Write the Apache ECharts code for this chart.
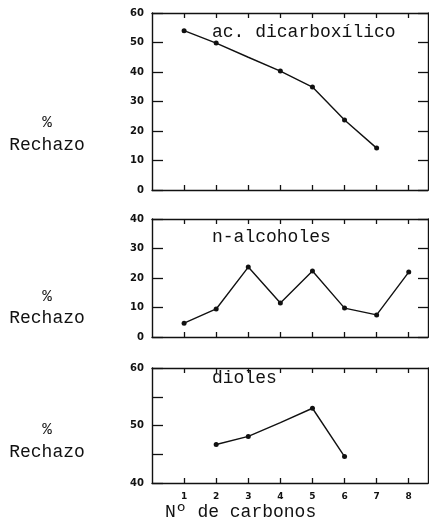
<!DOCTYPE html>
<html>
<head>
<meta charset="utf-8">
<script src="https://cdn.jsdelivr.net/npm/echarts@6/dist/echarts.min.js"></script>
<style>html,body{margin:0;padding:0;background:#fff}#c{width:429px;height:519px}</style>
</head>
<body>
<div id="c"></div>
<script>
// Data (x = Nº de carbonos, y = % Rechazo)
const carbonTicks = [1, 2, 3, 4, 5, 6, 7, 8];
const dicarbX = [1, 2, 3, 4, 5, 6, 7];
const dicarbY = [54, 49.8, 45, 40.3, 34.9, 23.7, 14.2];
const dicarbMarked = [true, true, false, true, true, true, true];
const alcX = [1, 2, 3, 4, 5, 6, 7, 8];
const alcY = [4.7, 9.5, 23.7, 11.5, 22.4, 9.8, 7.5, 22.0];
const diolX = [2, 3, 4, 5, 6];
const diolY = [46.7, 48.1, 50.5, 53, 44.6];
const diolMarked = [true, true, false, true, true];
const panelTitles = ['ac. dicarboxílico', 'n-alcoholes', 'dioles'];
const yTitlePct = '%';
const yTitleWord = 'Rechazo';
const xTitle = 'Nº de carbonos';

const chart = echarts.init(document.getElementById('c'), null, {renderer: 'canvas'});
const mono = 'Liberation Mono';
const sans = 'DejaVu Sans';
const grids = [
  {left: 152, top: 13, width: 276, height: 177},
  {left: 152, top: 219, width: 276, height: 118},
  {left: 152, top: 368, width: 276, height: 115}
];
const yRanges = [{min: 0, max: 60, interval: 10}, {min: 0, max: 40, interval: 10}, {min: 40, max: 60, interval: 5}];
const lineStyle = {color: '#111', width: 1.4};
const axisLine = {show: true, onZero: false, lineStyle: {color: '#111', width: 1.4}};

const xAxes = [], yAxes = [], series = [];
grids.forEach((g, i) => {
  xAxes.push({
    type: 'value', gridIndex: i, min: 0, max: 8.6, interval: 1, position: 'bottom',
    axisLine, splitLine: {show: false},
    axisTick: {show: true, inside: true, length: 5, lineStyle: {color: '#111', width: 1.3},
      customValues: carbonTicks},
    axisLabel: {show: i === 2, customValues: carbonTicks, color: '#111', fontFamily: sans,
      fontWeight: 'bold', fontSize: 9, margin: 9}
  });
  xAxes.push({
    type: 'value', gridIndex: i, min: 0, max: 8.6, interval: 1, position: 'top',
    axisLine, splitLine: {show: false},
    axisTick: {show: true, inside: true, length: 5, lineStyle: {color: '#111', width: 1.3},
      customValues: carbonTicks},
    axisLabel: {show: false}
  });
  const r = yRanges[i];
  yAxes.push({
    type: 'value', gridIndex: i, min: r.min, max: r.max, interval: r.interval, position: 'left',
    axisLine, splitLine: {show: false},
    axisTick: {show: true, inside: true, length: 11, lineStyle: {color: '#111', width: 1.3}},
    axisLabel: {color: '#111', fontFamily: sans, fontWeight: 'bold', fontSize: 10, margin: 8,
      formatter: v => (i === 2 && v % 10 !== 0) ? '' : String(v)}
  });
  yAxes.push({
    type: 'value', gridIndex: i, min: r.min, max: r.max, interval: r.interval, position: 'right',
    axisLine, splitLine: {show: false},
    axisTick: {show: i !== 2, inside: true, length: 10, lineStyle: {color: '#111', width: 1.3}},
    axisLabel: {show: false}
  });
});

function mk(xs, ys, marked) {
  return xs.map((x, k) => {
    const d = {value: [x, ys[k]]};
    if (marked && !marked[k]) d.symbolSize = 0;
    return d;
  });
}
const datasets = [mk(dicarbX, dicarbY, dicarbMarked), mk(alcX, alcY, null), mk(diolX, diolY, diolMarked)];
datasets.forEach((d, i) => {
  series.push({
    type: 'line', xAxisIndex: i * 2, yAxisIndex: i * 2, data: d,
    symbol: 'circle', symbolSize: 5, itemStyle: {color: '#111'},
    lineStyle, silent: true, animation: false
  });
});

const titleY = [32, 237, 378];
const pctY = [123, 297, 430];
const wordY = [145, 318, 452];
const graphic = [];
panelTitles.forEach((t, i) => {
  graphic.push({type: 'text', x: 212, y: titleY[i],
    style: {text: t, font: '18px "' + mono + '"', fill: '#111', textVerticalAlign: 'middle'}});
  graphic.push({type: 'text', x: 47, y: pctY[i],
    style: {text: yTitlePct, font: '16px "' + mono + '"', fill: '#111', textAlign: 'center', textVerticalAlign: 'middle'}});
  graphic.push({type: 'text', x: 47, y: wordY[i],
    style: {text: yTitleWord, font: '18px "' + mono + '"', fill: '#111', textAlign: 'center', textVerticalAlign: 'middle'}});
});
graphic.push({type: 'text', x: 165, y: 512,
  style: {text: xTitle, font: '18px "' + mono + '"', fill: '#111', textVerticalAlign: 'middle'}});

chart.setOption({
  animation: false,
  backgroundColor: '#fff',
  grid: grids,
  xAxis: xAxes,
  yAxis: yAxes,
  series,
  graphic
});
</script>
</body>
</html>
